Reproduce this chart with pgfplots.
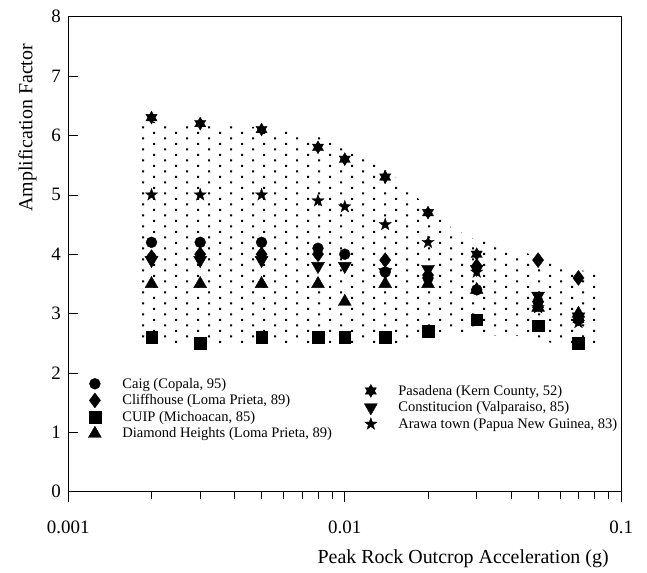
\documentclass[border=0pt]{standalone}
\usepackage{fontspec}
\setmainfont{Liberation Serif}
\usepackage{pgfplots}
\pgfplotsset{compat=1.18}
\usetikzlibrary{patterns}

% staggered square dots for the shaded band
\pgfdeclarepatternformonly{stagdots}{\pgfqpoint{-1bp}{-1bp}}{\pgfqpoint{21bp}{10bp}}{\pgfqpoint{22bp}{11bp}}{%
  \pgfpathrectangle{\pgfqpoint{-1bp}{-1bp}}{\pgfqpoint{2bp}{2bp}}%
  \pgfpathrectangle{\pgfqpoint{10bp}{4.5bp}}{\pgfqpoint{2bp}{2bp}}%
  \pgfusepath{fill}%
}

% filled six-pointed star
\pgfdeclareplotmark{hexstar}{%
  \pgfpathmoveto{\pgfpointpolar{90}{\pgfplotmarksize}}%
  \pgfpathlineto{\pgfpointpolar{210}{\pgfplotmarksize}}%
  \pgfpathlineto{\pgfpointpolar{330}{\pgfplotmarksize}}%
  \pgfpathclose
  \pgfpathmoveto{\pgfpointpolar{270}{\pgfplotmarksize}}%
  \pgfpathlineto{\pgfpointpolar{30}{\pgfplotmarksize}}%
  \pgfpathlineto{\pgfpointpolar{150}{\pgfplotmarksize}}%
  \pgfpathclose
  \pgfusepathqfillstroke
}

% filled five-pointed star
\pgfdeclareplotmark{fivestar}{%
  \pgfpathmoveto{\pgfpointpolar{90}{\pgfplotmarksize}}%
  \pgfpathlineto{\pgfpointpolar{126}{0.4\pgfplotmarksize}}%
  \pgfpathlineto{\pgfpointpolar{162}{\pgfplotmarksize}}%
  \pgfpathlineto{\pgfpointpolar{198}{0.4\pgfplotmarksize}}%
  \pgfpathlineto{\pgfpointpolar{234}{\pgfplotmarksize}}%
  \pgfpathlineto{\pgfpointpolar{270}{0.4\pgfplotmarksize}}%
  \pgfpathlineto{\pgfpointpolar{306}{\pgfplotmarksize}}%
  \pgfpathlineto{\pgfpointpolar{342}{0.4\pgfplotmarksize}}%
  \pgfpathlineto{\pgfpointpolar{18}{\pgfplotmarksize}}%
  \pgfpathlineto{\pgfpointpolar{54}{0.4\pgfplotmarksize}}%
  \pgfpathclose
  \pgfusepathqfillstroke
}

\pgfplotsset{
  sitemark/.style={only marks, black, mark options={solid, fill=black, draw=black, line width=0.3bp}},
}

\begin{document}
\begin{tikzpicture}
\useasboundingbox (-68.3bp,-81.3bp) rectangle (578.7bp,491.7bp);
\begin{axis}[
  scale only axis, width=553bp, height=475bp,
  xmode=log, xmin=0.001, xmax=0.1, ymin=0, ymax=8,
  legend style={draw=none, fill=none, anchor=north west,
    font=\fontsize{14.6}{16.5}\selectfont, row sep=1bp, column sep=19bp,
    inner sep=0pt, at={(axis description cs:0.036,0.244)}},
  legend cell align=left,
  legend image code/.code={\draw[mark repeat=2,mark phase=2,#1]
    plot coordinates {(0bp,0bp) (8bp,0bp) (16bp,0bp)};},
  axis line style={black, line width=0.8bp},
  xtick={0.001,0.01,0.1}, xticklabels={0.001,0.01,0.1},
  minor xtick={0.002,0.003,0.004,0.005,0.006,0.007,0.008,0.009,0.02,0.03,0.04,0.05,0.06,0.07,0.08,0.09},
  ytick={0,1,2,3,4,5,6,7,8}, yticklabels={0,1,2,3,4,5,6,7,8},
  xtick pos=bottom, ytick pos=left,
  xtick align=outside, ytick align=inside,
  major tick length=10bp, minor tick length=7bp,
  tick style={black, line width=0.6bp},
  tick label style={font=\fontsize{19}{22}\selectfont},
  xticklabel style={yshift=-16bp},
  yticklabel style={xshift=-4bp},
  xlabel={Peak Rock Outcrop Acceleration (g)},
  xlabel style={at={(axis description cs:0.714,-0.142)}, anchor=center, font=\fontsize{20}{24}\selectfont},
  ylabel={Amplification Factor},
  ylabel style={at={(axis description cs:-0.074,0.766)}, anchor=center, font=\fontsize{20}{24}\selectfont},
]
% envelope of the measured amplification factors
\addplot[draw=none, pattern=stagdots, pattern color=black, forget plot] coordinates {
  (0.00172,6.24) (0.0049,6.14) (0.0081,5.97) (0.01,5.79) (0.0142,5.42)
  (0.0187,4.91) (0.0244,4.44) (0.0296,4.25) (0.0423,4.07) (0.060,3.82) (0.0837,3.65)
  (0.0837,2.47) (0.060,2.47) (0.045,2.62) (0.02,2.65) (0.016,2.48)
  (0.00172,2.48)} -- cycle;

\addplot[sitemark, mark=*, mark size=5.5bp] coordinates {
  (0.002,4.2) (0.003,4.2) (0.005,4.2) (0.008,4.1) (0.01,4.0) (0.014,3.7)
  (0.02,3.6) (0.03,3.4) (0.05,3.2) (0.07,2.9)};
\addlegendentry{Caig (Copala, 95)}
\addplot[sitemark, mark=diamond*, mark size=7.5bp] coordinates {
  (0.002,3.95) (0.003,4.0) (0.005,4.0) (0.008,4.0) (0.014,3.9)
  (0.02,3.65) (0.03,3.8) (0.05,3.9) (0.07,3.6)};
\addlegendentry{Cliffhouse (Loma Prieta, 89)}
\addplot[sitemark, mark=square*, mark size=5.8bp] coordinates {
  (0.002,2.6) (0.003,2.5) (0.005,2.6) (0.008,2.6) (0.01,2.6) (0.014,2.6)
  (0.02,2.7) (0.03,2.9) (0.05,2.8) (0.07,2.5)};
\addlegendentry{CUIP (Michoacan, 85)}
\addplot[sitemark, mark=triangle*, mark size=7.5bp] coordinates {
  (0.002,3.5) (0.003,3.5) (0.005,3.5) (0.008,3.5) (0.01,3.2) (0.014,3.5)
  (0.02,3.5) (0.03,3.4) (0.05,3.1) (0.07,3.0)};
\addlegendentry{Diamond Heights (Loma Prieta, 89)}
\end{axis}

\begin{axis}[
  scale only axis, width=553bp, height=475bp,
  xmode=log, xmin=0.001, xmax=0.1, ymin=0, ymax=8,
  hide axis,
  legend style={draw=none, fill=none, anchor=north west,
    font=\fontsize{14.6}{16.5}\selectfont, row sep=1bp, column sep=19bp,
    inner sep=0pt, at={(axis description cs:0.535,0.229)}},
  legend cell align=left,
  legend image code/.code={\draw[mark repeat=2,mark phase=2,#1]
    plot coordinates {(0bp,0bp) (8bp,0bp) (16bp,0bp)};},
]
\addplot[sitemark, mark=hexstar, mark size=6.5bp] coordinates {
  (0.002,6.3) (0.003,6.2) (0.005,6.1) (0.008,5.8) (0.01,5.6) (0.014,5.3)
  (0.02,4.7) (0.03,4.0) (0.05,3.15) (0.07,2.9)};
\addlegendentry{Pasadena (Kern County, 52)}
\addplot[sitemark, mark=triangle*, mark size=7.5bp, mark options={rotate=180}] coordinates {
  (0.002,3.9) (0.003,3.9) (0.005,3.9) (0.008,3.8) (0.01,3.8) (0.014,3.7)
  (0.02,3.75) (0.03,3.75) (0.05,3.3) (0.07,2.95)};
\addlegendentry{Constitucion (Valparaiso, 85)}
\addplot[sitemark, mark=fivestar, mark size=6.5bp] coordinates {
  (0.002,5.0) (0.003,5.0) (0.005,5.0) (0.008,4.9) (0.01,4.8) (0.014,4.5)
  (0.02,4.2) (0.03,3.7) (0.05,3.1) (0.07,2.85)};
\addlegendentry{Arawa town (Papua New Guinea, 83)}
\end{axis}
\end{tikzpicture}
\end{document}
